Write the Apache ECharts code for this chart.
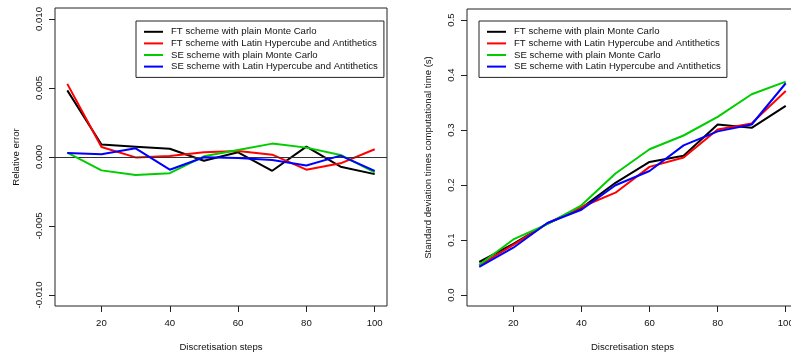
<!DOCTYPE html>
<html>
<head>
<meta charset="utf-8">
<script src="https://cdn.jsdelivr.net/npm/echarts@6/dist/echarts.min.js"></script>
<style>
html,body{margin:0;padding:0;background:#fff;}
#c{width:791px;height:356px;}
</style>
</head>
<body>
<div id="c"></div>
<script>
const steps = [10, 20, 30, 40, 50, 60, 70, 80, 90, 100];
const seriesNames = [
  'FT scheme with plain Monte Carlo',
  'FT scheme with Latin Hypercube and Antithetics',
  'SE scheme with plain Monte Carlo',
  'SE scheme with Latin Hypercube and Antithetics'
];
const seriesColors = ['#000000', '#ff0000', '#00cd00', '#0000ff'];

// Left panel: relative error
const errFtMc  = [0.00483, 0.0009, 0.00075, 0.0006, -0.00027, 0.00034, -0.001, 0.00075, -0.0007, -0.00124];
const errFtLhs = [0.0053, 0.00073, -0.00003, 0.00007, 0.00034, 0.00044, 0.00017, -0.00092, -0.00046, 0.00056];
const errSeMc  = [0.00032, -0.00097, -0.00131, -0.00117, 0.00005, 0.00051, 0.00097, 0.00068, 0.00015, -0.00112];
const errSeLhs = [0.00029, 0.0002, 0.00063, -0.00092, -0.00002, -0.00007, -0.00022, -0.00061, 0.0001, -0.001];

// Right panel: standard deviation times computational time (s)
const sdFtMc  = [0.060, 0.093, 0.130, 0.158, 0.204, 0.242, 0.253, 0.310, 0.304, 0.344];
const sdFtLhs = [0.054, 0.091, 0.130, 0.160, 0.186, 0.233, 0.250, 0.301, 0.312, 0.371];
const sdSeMc  = [0.055, 0.101, 0.129, 0.163, 0.221, 0.265, 0.290, 0.324, 0.365, 0.388];
const sdSeLhs = [0.051, 0.086, 0.131, 0.155, 0.1995, 0.2255, 0.272, 0.2975, 0.310, 0.385];

const xTicks = [20, 40, 60, 80, 100];
const leftYTicks = [-0.01, -0.005, 0, 0.005, 0.01];
const rightYTicks = [0, 0.1, 0.2, 0.3, 0.4, 0.5];

const FONT = 'Liberation Sans, Arial, sans-serif';
const FS = 9.6;
const AXC = '#222';

function pairs(ys) { return steps.map((x, i) => [x, ys[i]]); }

function xAxisDef(gridIndex) {
  return {
    type: 'value', gridIndex, min: 6.4, max: 103.6,
    name: 'Discretisation steps', nameLocation: 'middle', nameGap: 36,
    nameTextStyle: { fontFamily: FONT, fontSize: FS, color: '#111' },
    axisLine: { show: false, onZero: false },
    axisTick: { show: true, inside: false, length: 6, customValues: xTicks, lineStyle: { color: AXC } },
    axisLabel: { customValues: xTicks, margin: 12, fontFamily: FONT, fontSize: FS, color: '#111', hideOverlap: false },
    splitLine: { show: false }
  };
}
function yAxisDef(gridIndex, min, max, ticks, name, fmt) {
  return {
    type: 'value', gridIndex, min, max,
    name, nameLocation: 'middle', nameGap: 34,
    nameTextStyle: { fontFamily: FONT, fontSize: FS, color: '#111' },
    axisLine: { show: false, onZero: false },
    axisTick: { show: true, inside: false, length: 6, customValues: ticks, lineStyle: { color: AXC } },
    axisLabel: { customValues: ticks, rotate: 90, margin: 11, fontFamily: FONT, fontSize: FS, color: '#111',
      formatter: v => fmt(v) },
    splitLine: { show: false }
  };
}
function legendDef(left) {
  return {
    data: seriesNames, orient: 'vertical', left, top: 21,
    icon: 'rect', itemWidth: 19, itemHeight: 2, itemGap: 0,
    padding: [5, 6, 5, 8],
    borderColor: '#222', borderWidth: 1, borderRadius: 0, backgroundColor: '#fff',
    textStyle: { fontFamily: FONT, fontSize: FS, color: '#111', lineHeight: 11.6, padding: [0, 0, 0, 3] },
    selectedMode: false
  };
}

const leftData = [errFtMc, errFtLhs, errSeMc, errSeLhs];
const rightData = [sdFtMc, sdFtLhs, sdSeMc, sdSeLhs];
const series = [];
leftData.forEach((d, i) => {
  const s = {
    type: 'line', name: seriesNames[i], xAxisIndex: 0, yAxisIndex: 0,
    data: pairs(d), symbol: 'none', lineStyle: { width: 2, color: seriesColors[i] },
    itemStyle: { color: seriesColors[i] }, z: 3 + i
  };
  if (i === 0) {
    s.markLine = { silent: true, symbol: 'none', label: { show: false },
      lineStyle: { color: '#333', width: 1, type: 'solid' }, data: [{ yAxis: 0 }] };
  }
  series.push(s);
});
rightData.forEach((d, i) => {
  series.push({
    type: 'line', name: seriesNames[i], xAxisIndex: 1, yAxisIndex: 1,
    data: pairs(d), symbol: 'none', lineStyle: { width: 2, color: seriesColors[i] },
    itemStyle: { color: seriesColors[i] }, z: 3 + i
  });
});

const chart = echarts.init(document.getElementById('c'), null, { renderer: 'canvas' });
chart.setOption({
  animation: false,
  backgroundColor: '#fff',
  grid: [
    { left: 55, top: 8, width: 332, height: 298, show: true, borderColor: AXC, borderWidth: 1, backgroundColor: 'transparent',
      containLabel: false, outerBoundsMode: 'none' },
    { left: 467, top: 9, width: 331, height: 297, show: true, borderColor: AXC, borderWidth: 1, backgroundColor: 'transparent',
      containLabel: false, outerBoundsMode: 'none' }
  ],
  legend: [legendDef(136), legendDef(479)],
  xAxis: [xAxisDef(0), xAxisDef(1)],
  yAxis: [
    yAxisDef(0, -0.0108, 0.0108, leftYTicks, 'Relative error', v => v.toFixed(3)),
    yAxisDef(1, -0.02, 0.52, rightYTicks, 'Standard deviation times computational time (s)', v => v.toFixed(1))
  ],
  series
});
</script>
</body>
</html>
